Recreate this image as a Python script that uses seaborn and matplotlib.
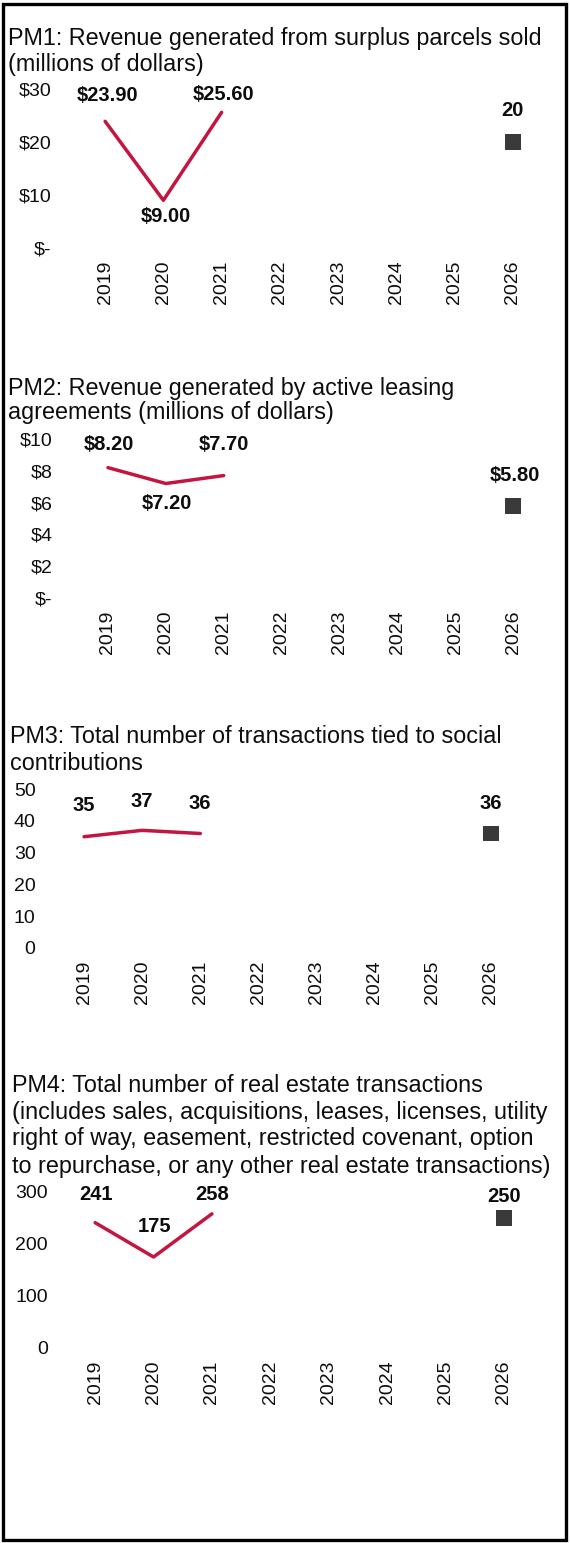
import matplotlib
matplotlib.use("Agg")
import matplotlib.pyplot as plt
import matplotlib.patches as patches
import seaborn as sns

# ---------------- data ----------------
years = [2019, 2020, 2021, 2022, 2023, 2024, 2025, 2026]
actual_years = [2019, 2020, 2021]
target_year = [2026]

pm1_title = ["PM1: Revenue generated from surplus parcels sold", "(millions of dollars)"]
pm1_values = [23.90, 9.00, 25.60]
pm1_target = [20]
pm1_labels = ["$23.90", "$9.00", "$25.60"]
pm1_target_label = ["20"]
pm1_yticks = [0, 10, 20, 30]
pm1_yticklabels = ["$-", "$10", "$20", "$30"]

pm2_title = ["PM2: Revenue generated by active leasing", "agreements (millions of dollars)"]
pm2_values = [8.20, 7.20, 7.70]
pm2_target = [5.80]
pm2_labels = ["$8.20", "$7.20", "$7.70"]
pm2_target_label = ["$5.80"]
pm2_yticks = [0, 2, 4, 6, 8, 10]
pm2_yticklabels = ["$-", "$2", "$4", "$6", "$8", "$10"]

pm3_title = ["PM3: Total number of transactions tied to social", "contributions"]
pm3_values = [35, 37, 36]
pm3_target = [36]
pm3_labels = ["35", "37", "36"]
pm3_target_label = ["36"]
pm3_yticks = [0, 10, 20, 30, 40, 50]
pm3_yticklabels = ["0", "10", "20", "30", "40", "50"]

pm4_title = ["PM4: Total number of real estate transactions",
             "(includes sales, acquisitions, leases, licenses, utility",
             "right of way, easement, restricted covenant, option",
             "to repurchase, or any other real estate transactions)"]
pm4_values = [241, 175, 258]
pm4_target = [250]
pm4_labels = ["241", "175", "258"]
pm4_target_label = ["250"]
pm4_yticks = [0, 100, 200, 300]
pm4_yticklabels = ["0", "100", "200", "300"]

# ---------------- style ----------------
sns.set_theme(style="white")
plt.rcParams["font.family"] = ["Liberation Sans", "DejaVu Sans"]

W, H = 570, 1543
fig = plt.figure(figsize=(W / 100, H / 100), dpi=100)
fig.patch.set_facecolor("white")

LINE_COLOR = "#C4153F"
MARK_COLOR = "#3a3a3a"
TXT = "#0d0d0d"


def panel(title, title_x, title_ys, box, ylim, yticks, yticklabels, ypad,
          values, labels, lab_offsets, target, target_label, tgt_offset):
    for line, ty in zip(title, title_ys):
        fig.text(title_x / W, 1 - ty / H, line, fontsize=16.8, color=TXT,
                 ha="left", va="center")
    left, top, right, bottom = box
    ax = fig.add_axes([left / W, 1 - bottom / H, (right - left) / W, (bottom - top) / H])
    ax.set_facecolor("none")
    sns.lineplot(x=actual_years, y=values, ax=ax, color=LINE_COLOR, linewidth=2.5)
    sns.scatterplot(x=target_year, y=target, ax=ax, marker="s", s=125,
                    color=MARK_COLOR, edgecolor="none", linewidth=0)
    ax.set_xlim(2018.5, 2026.5)
    ax.set_ylim(*ylim)
    ax.set_xticks(years)
    ax.set_xticklabels([str(y) for y in years], rotation=90, fontsize=14, color=TXT)
    ax.set_yticks(yticks)
    ax.set_yticklabels(yticklabels, fontsize=14, color=TXT)
    ax.tick_params(axis="both", length=0)
    ax.tick_params(axis="y", pad=ypad)
    ax.tick_params(axis="x", pad=9)
    for s in ax.spines.values():
        s.set_visible(False)
    ax.grid(False)
    ax.set_xlabel("")
    ax.set_ylabel("")
    for x, v, lab, off in zip(actual_years, values, labels, lab_offsets):
        ax.annotate(lab, xy=(x, v), xytext=off, textcoords="offset pixels",
                    ha="center", va="center", fontsize=14.5, fontweight="bold",
                    color=TXT)
    for x, v, lab in zip(target_year, target, target_label):
        ax.annotate(lab, xy=(x, v), xytext=tgt_offset, textcoords="offset pixels",
                    ha="center", va="center", fontsize=14.5, fontweight="bold",
                    color=TXT)
    return ax


# PM1
panel(pm1_title, 8, [38, 65], (76, 89, 542, 248), (0, 30), pm1_yticks, pm1_yticklabels, 18,
      pm1_values, pm1_labels, [(2, 26), (2, -16), (2, 18)],
      pm1_target, pm1_target_label, (0, 31))
# PM2
panel(pm2_title, 8, [388, 413], (79, 439, 542, 598), (0, 10), pm2_yticks, pm2_yticklabels, 19,
      pm2_values, pm2_labels, [(1, 23), (1, -20), (0, 31)],
      pm2_target, pm2_target_label, (2, 30))
# PM3
panel(pm3_title, 10, [737, 763], (55, 789, 520, 948), (0, 50), pm3_yticks, pm3_yticklabels, 14,
      pm3_values, pm3_labels, [(0, 31), (0, 29), (-1, 30)],
      pm3_target, pm3_target_label, (0, 30))
# PM4
panel(pm4_title, 12, [1085, 1112, 1139, 1166], (66, 1192, 533, 1348), (0, 300), pm4_yticks,
      pm4_yticklabels, 13,
      pm4_values, pm4_labels, [(1, 28), (1, 30), (0, 19)],
      pm4_target, pm4_target_label, (0, 22))

# outer frame
fig.add_artist(patches.Rectangle((2.5 / W, 3.5 / H), 563.5 / W, 1536 / H,
                                 transform=fig.transFigure, fill=False,
                                 edgecolor="black", linewidth=2.4))

fig.savefig("out.png", dpi=100, facecolor="white")
